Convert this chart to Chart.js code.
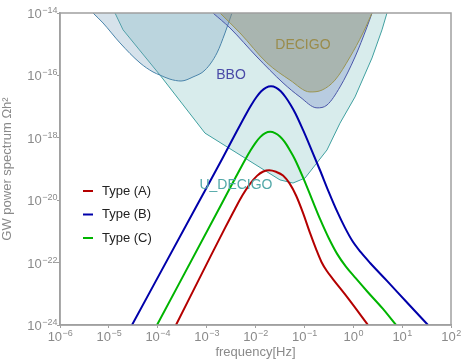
<!DOCTYPE html>
<html>
<head>
<meta charset="utf-8">
<script src="https://cdn.jsdelivr.net/npm/chart.js@4.4.1/dist/chart.umd.min.js"></script>
<style>
  html, body { margin: 0; padding: 0; background: #fff; }
  #wrap { width: 462px; height: 361px; }
</style>
</head>
<body>
<div id="wrap"><canvas id="chart" width="462" height="361"></canvas></div>
<script>
// values are log10(frequency / Hz) and log10(Omega h^2)
const udecigoLogF = [-4.875, -4.71, -3.954, -3.033, -1.499, -1.233, -0.987, -0.537, -0.271, 0.036, 0.384, 0.588, 0.690];
const udecigoLogH = [-14.0, -14.54, -15.99, -17.85, -19.35, -19.45, -19.29, -18.39, -17.53, -16.69, -15.44, -14.54, -14.0];

const lisaLogF = [-5.325, -5.12, -4.772, -4.363, -4.097, -3.954, -3.75, -3.524, -3.279, -3.033, -2.788, -2.624, -2.481];
const lisaLogH = [-14.0, -14.32, -14.96, -15.60, -15.89, -15.99, -16.12, -16.18, -16.05, -15.83, -15.28, -14.64, -14.0];

const bboLogF = [-2.870, -2.522, -1.969, -1.437, -1.090, -0.742, -0.537, -0.271, 0.036, 0.281, 0.384];
const bboLogH = [-14.0, -14.48, -15.41, -16.24, -16.69, -17.04, -16.95, -16.37, -15.41, -14.45, -14.0];

const decigoLogF = [-2.726, -2.317, -1.765, -1.294, -0.885, -0.639, -0.373, -0.066, 0.199, 0.384];
const decigoLogH = [-14.0, -14.64, -15.60, -16.15, -16.53, -16.47, -16.15, -15.41, -14.64, -14.0];

const typeALogF = [-3.627, -2.92, -2.62, -2.42, -2.27, -2.12, -1.97, -1.84, -1.72, -1.58, -1.437, -1.30, -1.17, -1.03, -0.885, -0.76, -0.65, -0.54, -0.40, -0.128, 0.302];
const typeALogH = [-24.0, -21.80, -20.88, -20.28, -19.85, -19.49, -19.22, -19.08, -19.04, -19.09, -19.21, -19.47, -19.85, -20.40, -21.05, -21.57, -21.98, -22.27, -22.56, -23.10, -24.0];

const typeBLogF = [-4.527, -3.183, -2.683, -2.383, -2.183, -2.083, -1.983, -1.883, -1.783, -1.683, -1.583, -1.483, -1.383, -1.283, -1.183, -1.03, -0.85, -0.68, -0.50, -0.33, -0.17, -0.02, 0.15, 0.35, 0.70, 1.10, 1.529];
const typeBLogH = [-24.0, -20.12, -18.68, -17.79, -17.21, -16.94, -16.70, -16.51, -16.39, -16.35, -16.39, -16.51, -16.70, -16.94, -17.22, -17.74, -18.40, -19.04, -19.74, -20.36, -20.88, -21.30, -21.66, -22.02, -22.60, -23.28, -24.0];

const typeCLogF = [-4.015, -2.70, -2.40, -2.20, -2.10, -2.00, -1.90, -1.80, -1.70, -1.60, -1.50, -1.40, -1.30, -1.20, -1.03, -0.85, -0.68, -0.50, -0.33, -0.15, 0.05, 0.30, 0.60, 0.875];
const typeCLogH = [-24.0, -20.14, -19.25, -18.67, -18.40, -18.16, -17.97, -17.85, -17.81, -17.85, -17.96, -18.14, -18.39, -18.67, -19.26, -19.95, -20.60, -21.22, -21.72, -22.13, -22.50, -22.95, -23.47, -24.0];

const xTickExps = [-6, -5, -4, -3, -2, -1, 0, 1, 2];
const yTickExps = [-24, -22, -20, -18, -16, -14];

const seriesNames = ['Type (A)', 'Type (B)', 'Type (C)'];
const seriesColors = ['#b40000', '#0000aa', '#00b400'];

function pts(lf, lh) {
    return lf.map((v, i) => ({ x: Math.pow(10, v), y: Math.pow(10, lh[i]) }));
}

const FONT = "'Liberation Sans', Arial, sans-serif";
const GRAY = '#8a8a8a';

// writes 10^e as "10" plus a raised exponent
function drawPow(ctx, e, x, baseY, align) {
    const exp = String(e).replace('-', '\u2212');
    ctx.font = '13px ' + FONT;
    const w1 = ctx.measureText('10').width;
    ctx.font = '9px ' + FONT;
    const w2 = ctx.measureText(exp).width;
    const left = align === 'right' ? x - w1 - w2 : x - (w1 + w2) / 2;
    ctx.textAlign = 'left';
    ctx.textBaseline = 'alphabetic';
    ctx.font = '13px ' + FONT;
    ctx.fillText('10', left, baseY);
    ctx.font = '9px ' + FONT;
    ctx.fillText(exp, left + w1 + 0.5, baseY - 5);
}

const overlayPlugin = {
    id: 'overlay',
    afterDatasetsDraw(chart) {
        const ctx = chart.ctx;
        const xs = chart.scales.x, ys = chart.scales.y;
        const area = chart.chartArea;
        ctx.save();
        // frame
        ctx.strokeStyle = '#a0a0a0';
        ctx.lineWidth = 1.5;
        ctx.strokeRect(area.left, area.top, area.right - area.left, area.bottom - area.top);

        // tick labels
        ctx.fillStyle = GRAY;
        xTickExps.forEach(e => drawPow(ctx, e, xs.getPixelForValue(Math.pow(10, e)), area.bottom + 16, 'center'));
        yTickExps.forEach(e => drawPow(ctx, e, area.left - 3, ys.getPixelForValue(Math.pow(10, e)) + 5, 'right'));

        // region names
        ctx.font = '14px ' + FONT;
        ctx.textAlign = 'center';
        ctx.textBaseline = 'middle';
        const labels = [
            ['DECIGO', -1.03, -15.03, '#9a8c4c'],
            ['BBO', -2.50, -15.99, '#4a4aa8'],
            ['U_DECIGO', -2.40, -19.51, '#52a8a8']
        ];
        labels.forEach(l => {
            ctx.fillStyle = l[3];
            ctx.fillText(l[0], xs.getPixelForValue(Math.pow(10, l[1])), ys.getPixelForValue(Math.pow(10, l[2])));
        });

        // legend
        ctx.font = '13px ' + FONT;
        ctx.textAlign = 'left';
        seriesNames.forEach((name, i) => {
            const y = area.top + 178 + i * 23.5;
            ctx.strokeStyle = seriesColors[i];
            ctx.lineWidth = 2;
            ctx.beginPath();
            ctx.moveTo(area.left + 23, y);
            ctx.lineTo(area.left + 33, y);
            ctx.stroke();
            ctx.fillStyle = '#222';
            ctx.fillText(name, area.left + 42, y);
        });
        ctx.restore();
    }
};

function region(lf, lh, fill, edge, order) {
    return {
        data: pts(lf, lh),
        backgroundColor: fill,
        borderColor: edge,
        borderWidth: 1,
        pointRadius: 0,
        fill: 'end',
        cubicInterpolationMode: 'monotone',
        order: order
    };
}

function curve(lf, lh, idx) {
    return {
        label: seriesNames[idx],
        data: pts(lf, lh),
        borderColor: seriesColors[idx],
        borderWidth: 2,
        pointRadius: 0,
        fill: false,
        cubicInterpolationMode: 'monotone',
        order: 0
    };
}

const datasets = [
    curve(typeALogF, typeALogH, 0),
    curve(typeBLogF, typeBLogH, 1),
    curve(typeCLogF, typeCLogH, 2),
    region(decigoLogF, decigoLogH, 'rgba(150,150,110,0.42)', '#9a9450', 1),
    region(bboLogF, bboLogH, 'rgba(90,110,190,0.25)', '#4a56a8', 2),
    region(lisaLogF, lisaLogH, 'rgba(120,160,190,0.30)', '#4a84aa', 3),
    Object.assign(region(udecigoLogF, udecigoLogH, 'rgba(100,180,180,0.25)', '#40a0a0', 4), { tension: 0, cubicInterpolationMode: 'default' })
];

new Chart(document.getElementById('chart').getContext('2d'), {
    type: 'line',
    data: { datasets: datasets },
    options: {
        responsive: false,
        animation: false,
        events: [],
        layout: { padding: { top: 13, right: 11, left: 0, bottom: 0 } },
        plugins: {
            legend: { display: false },
            tooltip: { enabled: false }
        },
        scales: {
            x: {
                type: 'logarithmic',
                min: 1e-6,
                max: 1e2,
                afterBuildTicks: s => { s.ticks = xTickExps.map(e => ({ value: Math.pow(10, e) })); },
                afterFit: s => { s.height = 36; },
                ticks: { callback: () => '', padding: 2, maxRotation: 0, autoSkip: false },
                grid: { drawOnChartArea: false, tickLength: 3, color: '#a0a0a0' },
                border: { color: '#a0a0a0', width: 1.5 },
                title: { display: true, text: 'frequency[Hz]', color: GRAY, font: { family: FONT, size: 13 }, padding: { top: 0, bottom: 1 } }
            },
            y: {
                type: 'logarithmic',
                min: 1e-24,
                max: 1e-14,
                afterBuildTicks: s => { s.ticks = yTickExps.map(e => ({ value: Math.pow(10, e) })); },
                afterFit: s => { s.width = 60; },
                ticks: { callback: () => '', padding: 2, autoSkip: false },
                grid: { drawOnChartArea: false, tickLength: 3, color: '#a0a0a0' },
                border: { color: '#a0a0a0', width: 1.5 },
                title: { display: true, text: 'GW power spectrum \u03A9h\u00B2', color: GRAY, font: { family: FONT, size: 13 }, padding: { top: 0, bottom: 0 } }
            }
        }
    },
    plugins: [overlayPlugin]
});
</script>
</body>
</html>
